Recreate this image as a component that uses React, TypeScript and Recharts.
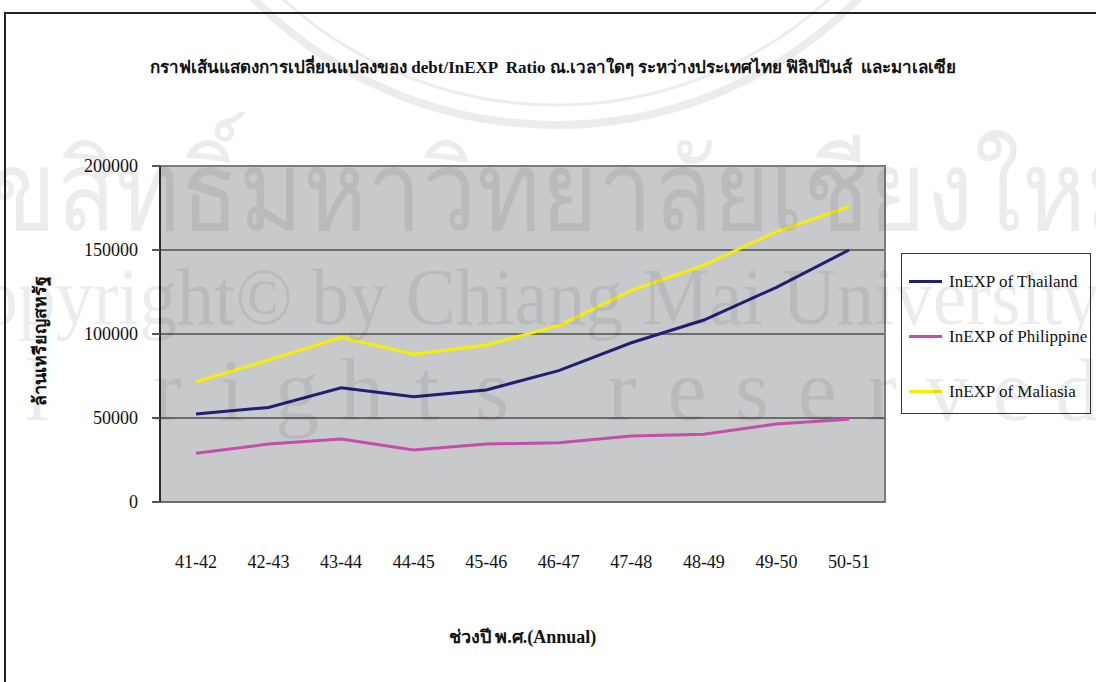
import React from "react";
import { LineChart, Line, XAxis, YAxis, CartesianGrid, Legend, ReferenceArea } from "recharts";

const periods = ["41-42", "42-43", "43-44", "44-45", "45-46", "46-47", "47-48", "48-49", "49-50", "50-51"];
const thailand = [52400, 56300, 68000, 62700, 66700, 78200, 94800, 108300, 127800, 150000];
const philippine = [29000, 34500, 37500, 31000, 34500, 35300, 39300, 40300, 46400, 49200];
const maliasia = [71600, 84500, 98000, 88000, 93500, 105000, 126000, 141000, 161000, 175800];
const yTicks = [0, 50000, 100000, 150000, 200000];
const seriesNames = ["InEXP of Thailand", "InEXP of Philippine", "InEXP of Maliasia"];
const seriesColors = ["#1f1f75", "#c24fa9", "#f7ef00"];

const title = "กราฟเส้นแสดงการเปลี่ยนแปลงของ debt/InEXP  Ratio ณ.เวลาใดๆ ระหว่างประเทศไทย ฟิลิปปินส์  และมาเลเซีย";
const yTitle = "ล้านเหรียญสหรัฐ";
const xTitle = "ช่วงปี พ.ศ.(Annual)";

const SERIF = "'Liberation Serif', 'Times New Roman', serif";

const data = periods.map((p, i) => ({
  period: p,
  th: thailand[i],
  ph: philippine[i],
  my: maliasia[i],
}));

// tick marks sit between the categories, like the old excel chart
const boundaryTicks = periods.map((_, i) => i).concat(periods.length);

const XTick = (props: any) => {
  const { x, y, payload } = props;
  return (
    <text x={x} y={y + 56} textAnchor="middle" fontSize={18} fill="#111" fontFamily={SERIF}>
      {payload.value}
    </text>
  );
};

const renderLegend = () => (
  <div
    style={{
      border: "1.5px solid #333",
      background: "#fff",
      width: 190,
      height: 161,
      boxSizing: "border-box",
      paddingTop: 0,
      fontFamily: SERIF,
      fontSize: 17,
      color: "#111",
    }}
  >
    {seriesNames.map((name, i) => (
      <div key={name} style={{ display: "flex", alignItems: "center", height: 55 }}>
        <span style={{ display: "inline-block", width: 33, height: 3, background: seriesColors[i], marginLeft: 7, marginRight: 7 }} />
        <span>{name}</span>
      </div>
    ))}
  </div>
);

const spaced = "All rights reserved";

const Watermark = () => (
  <svg width={1096} height={682} style={{ position: "absolute", left: 0, top: 0, pointerEvents: "none" }}>
    <g fill="#000" fillOpacity={0.075} stroke="none">
      <circle cx={556} cy={-300} r={425} fill="none" stroke="#000" strokeOpacity={0.075} strokeWidth={8} />
      <circle cx={556} cy={-300} r={405} fill="none" stroke="#000" strokeOpacity={0.075} strokeWidth={3} />
      <text x={-70} y={230} fontSize={112} fontFamily="'Noto Sans', sans-serif" textLength={1220} lengthAdjust="spacingAndGlyphs">
        ลิขสิทธิ์มหาวิทยาลัยเชียงใหม่
      </text>
      <text x={-70} y={324} fontSize={80} fontFamily={SERIF} textLength={1170} lengthAdjust="spacingAndGlyphs">
        Copyright© by Chiang Mai University
      </text>
      <text y={420} fontSize={88} fontFamily={SERIF} textAnchor="middle">
        {spaced.split("").map((ch, i) => (
          <tspan key={i} x={-93 + i * 65}>
            {ch}
          </tspan>
        ))}
      </text>
    </g>
  </svg>
);

export default function App() {
  return (
    <div style={{ position: "fixed", left: 0, top: 0, width: 1096, height: 682, background: "#fff", overflow: "hidden" }}>
      <div style={{ position: "absolute", left: 4, top: 12, width: 1200, height: 800, border: "2px solid #222" }} />
      <div
        style={{
          position: "absolute",
          left: 0,
          top: 53,
          width: 1106,
          textAlign: "center",
          fontFamily: SERIF,
          fontWeight: "bold",
          fontSize: 17,
          color: "#111",
          whiteSpace: "pre",
        }}
      >
        {title}
      </div>
      <div style={{ position: "absolute", left: 0, top: 0 }}>
        <LineChart width={1096} height={682} data={data} margin={{ top: 166, right: 211, bottom: 120, left: 0 }}>
          <CartesianGrid vertical={false} stroke="#111" strokeWidth={1} fill="#c8c9cb" fillOpacity={1} />
          <ReferenceArea y1={0} y2={200000} fill="none" stroke="#7d7d7d" strokeWidth={2} />
          <XAxis
            xAxisId={0}
            type="number"
            domain={[0, periods.length]}
            ticks={boundaryTicks}
            height={10}
            tickSize={10}
            tick={false}
            axisLine={{ stroke: "#6e6e6e", strokeWidth: 2 }}
            tickLine={{ stroke: "#333", strokeWidth: 1.5 }}
          />
          <XAxis
            xAxisId="cat"
            dataKey="period"
            height={50}
            padding={{ left: 36, right: 36 }}
            axisLine={false}
            tickLine={false}
            tickSize={0}
            tickMargin={0}
            tick={<XTick />}
            interval={0}
            label={(p: any) => {
              const vb = p.viewBox;
              return (
                <text x={vb.x + vb.width / 2} y={vb.y + 131} textAnchor="middle" fontSize={18} fontWeight="bold" fill="#111" fontFamily={SERIF}>
                  {xTitle}
                </text>
              );
            }}
          />
          <YAxis
            width={160}
            domain={[0, 200000]}
            ticks={yTicks}
            interval={0}
            tickSize={8}
            tickMargin={14}
            axisLine={{ stroke: "#111", strokeWidth: 1.5 }}
            tickLine={{ stroke: "#555", strokeWidth: 2 }}
            tick={{ fontSize: 18, fill: "#111", fontFamily: SERIF }}
            label={(p: any) => {
              const vb = p.viewBox;
              const cx = vb.x + 46;
              const cy = vb.y + vb.height / 2 + 7;
              return (
                <text x={cx} y={cy} transform={`rotate(-90 ${cx} ${cy})`} textAnchor="middle" fontSize={18} fontWeight="bold" fill="#111" fontFamily={SERIF}>
                  {yTitle}
                </text>
              );
            }}
          />
          <Line xAxisId="cat" dataKey="th" name={seriesNames[0]} stroke={seriesColors[0]} strokeWidth={3} dot={false} isAnimationActive={false} />
          <Line xAxisId="cat" dataKey="ph" name={seriesNames[1]} stroke={seriesColors[1]} strokeWidth={3} dot={false} isAnimationActive={false} />
          <Line xAxisId="cat" dataKey="my" name={seriesNames[2]} stroke={seriesColors[2]} strokeWidth={3} dot={false} isAnimationActive={false} />
          <Legend
            layout="vertical"
            align="center"
            verticalAlign="middle"
            content={renderLegend}
            wrapperStyle={{ position: "absolute", left: 901, top: 253, width: 190, height: 161 }}
          />
        </LineChart>
      </div>
      <Watermark />
    </div>
  );
}
